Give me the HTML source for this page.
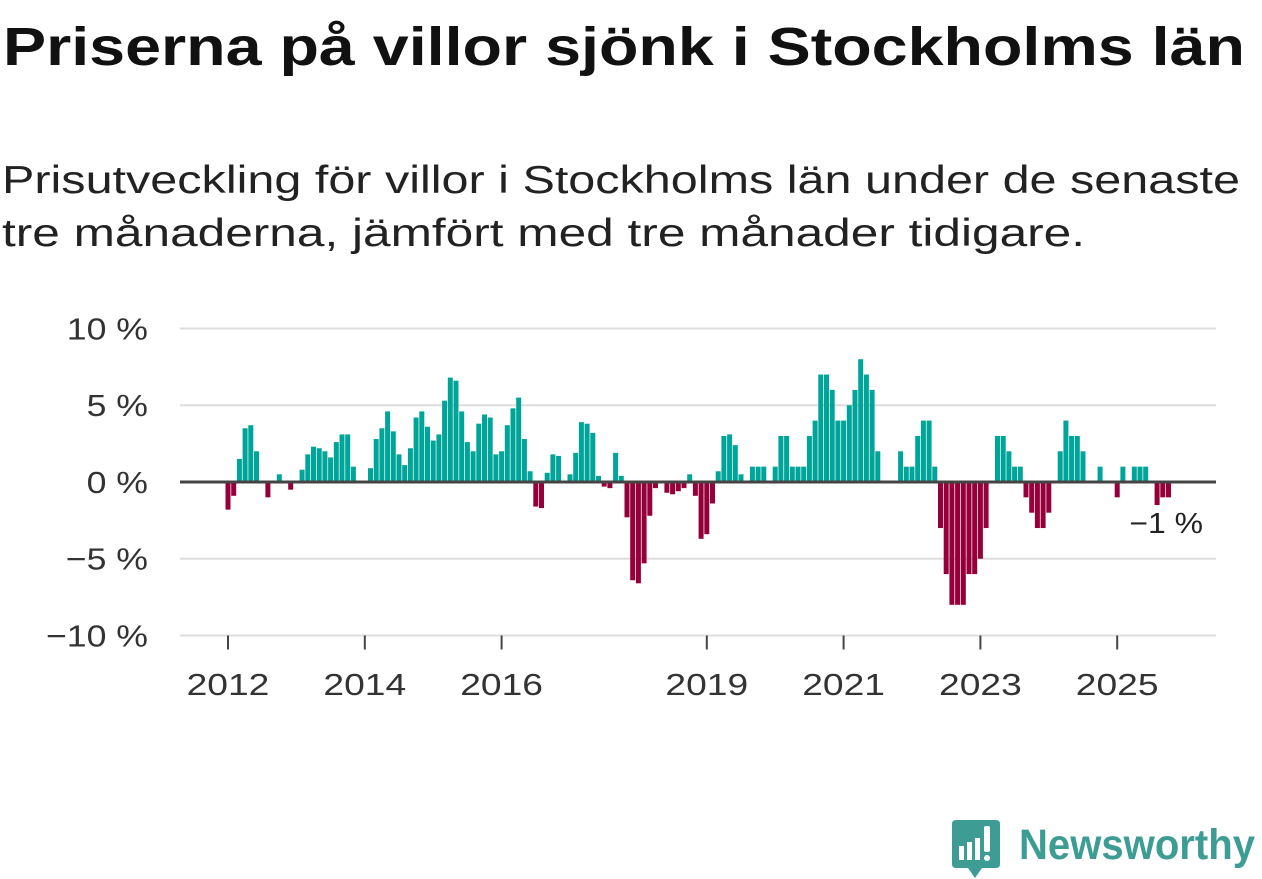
<!DOCTYPE html>
<html><head><meta charset="utf-8">
<style>
html,body{margin:0;padding:0;background:#fff;}
body{width:1262px;height:879px;overflow:hidden;position:relative;font-family:"Liberation Sans",sans-serif;}
svg{position:absolute;left:0;top:0;}
</style></head><body>
<svg width="1262" height="879">
  <text x="3" y="65" font-size="54" font-weight="bold" fill="#111" textLength="1242" lengthAdjust="spacingAndGlyphs" font-family="Liberation Sans, sans-serif">Priserna på villor sjönk i Stockholms län</text>
  <text x="2" y="193" font-size="39" fill="#222" textLength="1238" lengthAdjust="spacingAndGlyphs" font-family="Liberation Sans, sans-serif">Prisutveckling för villor i Stockholms län under de senaste</text>
  <text x="2" y="246" font-size="39" fill="#222" textLength="1083" lengthAdjust="spacingAndGlyphs" font-family="Liberation Sans, sans-serif">tre månaderna, jämfört med tre månader tidigare.</text>
</svg>
<svg id="chart" width="1262" height="879"></svg>
<script>
const values = [-1.8,-0.9,1.5,3.5,3.7,2.0,0,-1.0,0,0.5,0,-0.5,0,0.8,1.8,2.3,2.2,2.0,1.6,2.6,3.1,3.1,1.0,0,0,
0.9,2.8,3.5,4.6,3.3,1.8,1.1,2.2,4.2,4.6,3.6,2.7,3.1,5.3,6.8,6.6,4.6,2.6,2.0,3.8,4.4,4.2,1.8,2.0,3.7,4.8,5.5,2.8,0.7,-1.6,-1.7,
0.6,1.8,1.7,0,0.5,1.9,3.9,3.8,3.2,0.4,-0.3,-0.4,1.9,0.4,-2.3,-6.4,-6.6,-5.3,-2.2,-0.4,0,-0.7,-0.8,-0.6,-0.4,0.5,
-0.9,-3.7,-3.4,-1.4,0.7,3.0,3.1,2.4,0.5,0,1.0,1.0,1.0,0,1.0,3.0,3.0,1.0,1.0,1.0,3.0,4.0,7.0,7.0,6.0,4.0,4.0,5.0,6.0,8.0,7.0,6.0,2.0,
0,0,0,2.0,1.0,1.0,3.0,4.0,4.0,1.0,-3.0,-6.0,-8.0,-8.0,-8.0,-6.0,-6.0,-5.0,-3.0,0,3.0,3.0,2.0,1.0,1.0,-1.0,-2.0,-3.0,-3.0,-2.0,
0,2.0,4.0,3.0,3.0,2.0,0,0,1.0,0,0,-1.0,1.0,0,1.0,1.0,1.0,0,-1.5,-1.0,-1.0];
const startYear = 2012;
const yTicks = [10,5,0,-5,-10];
const yTickLabels = ["10 %","5 %","0 %","−5 %","−10 %"];
const xTickYears = [2012,2014,2016,2019,2021,2023,2025];
const lastLabel = "−1 %";

const NS="http://www.w3.org/2000/svg";
const svg=document.getElementById('chart');
const X0=228, MW=5.7, Y0=482, PPU=15.35, LEFT=180, RIGHT=1216;
const x=i=>X0+MW*i;
const y=v=>Y0-v*PPU;
function mk(t,a){const e=document.createElementNS(NS,t);for(const k in a)e.setAttribute(k,a[k]);svg.appendChild(e);return e;}

yTicks.forEach((t,k)=>{
  if(t!==0){const g=mk('line',{x1:LEFT,x2:RIGHT,y1:y(t),y2:y(t),stroke:'#dddddd','stroke-width':2});
  
  }
  const l=mk('text',{x:148,y:y(t)+11,'text-anchor':'end','font-size':31,fill:'#333','font-family':'Liberation Sans, sans-serif',transform:'translate(148,0) scale(1.15,1) translate(-148,0)'});
  l.textContent=yTickLabels[k];
  
  
});
values.forEach((v,i)=>{
  if(v===0)return;
  const r=mk('rect',{x:x(i)-2.5,width:5,y:v>0?y(v):Y0,height:Math.abs(v)*PPU,fill:v>0?'#00a59a':'#96003a'});
  
  
});
const z=mk('line',{x1:LEFT,x2:RIGHT,y1:Y0,y2:Y0,stroke:'#444','stroke-width':3});


xTickYears.forEach(yr=>{
  const xi=x((yr-startYear)*12);
  const t=mk('line',{x1:xi,x2:xi,y1:y(-10),y2:y(-10)+14,stroke:'#444','stroke-width':2});
  
  
  const l=mk('text',{x:xi,y:695,'text-anchor':'middle','font-size':31,fill:'#333','font-family':'Liberation Sans, sans-serif',transform:`translate(${xi},0) scale(1.2,1) translate(${-xi},0)`});
  l.textContent=String(yr);
  
  
});
const ll=mk('text',{x:1203,y:533,'text-anchor':'end','font-size':29,fill:'#222','font-family':'Liberation Sans, sans-serif',transform:'translate(1203,0) scale(1.1,1) translate(-1203,0)'});
ll.textContent=lastLabel;


</script>
<svg width="1262" height="879" style="position:absolute;left:0;top:0">
  <path d="M956 820 H996 Q1000 820 1000 824 V864 Q1000 868 996 868 H982 L975 878 L968 868 H956 Q952 868 952 864 V824 Q952 820 956 820Z" fill="#3d9d95"/>
  <rect x="959" y="846" width="5" height="14" fill="#fff"/>
  <rect x="967" y="842" width="5" height="18" fill="#fff"/>
  <rect x="975" y="838" width="5" height="22" fill="#fff"/>
  <rect x="984" y="826" width="6" height="26" rx="2" fill="#fff"/>
  <circle cx="987" cy="858" r="3" fill="#fff"/>
  <text x="1019" y="859" font-size="43" font-weight="bold" fill="#3d9d95" textLength="236" lengthAdjust="spacingAndGlyphs" font-family="Liberation Sans, sans-serif">Newsworthy</text>
</svg>
</body></html>
